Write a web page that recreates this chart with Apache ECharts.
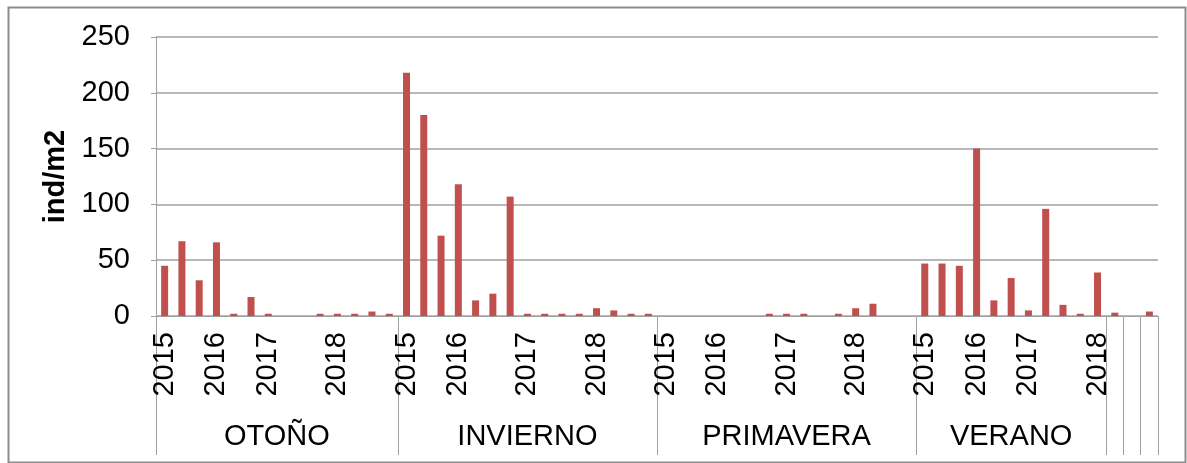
<!DOCTYPE html>
<html>
<head>
<meta charset="utf-8">
<script src="https://cdn.jsdelivr.net/npm/echarts@6/dist/echarts.min.js"></script>
<style>
html,body{margin:0;padding:0;background:#fff;}
#chart{width:1187px;height:463px;}
</style>
</head>
<body>
<div id="chart"></div>
<script>
// ---- Data ----
const yearLabels = [
  '2015','','','2016','','','2017','','','','2018','','','',
  '2015','','','2016','','','','2017','','','','2018','','','',
  '2015','','','2016','','','','2017','','','','2018','','','',
  '2015','','','2016','','','2017','','','','2018',
  '','',''
];
const values = [
  45, 67, 32, 66, 2, 17, 2, 0, 0, 2, 2, 2, 4, 2,
  218, 180, 72, 118, 14, 20, 107, 2, 2, 2, 2, 7, 5, 2, 2,
  0, 0, 0, 0, 0, 0, 2, 2, 2, 0, 2, 7, 11, 0, 0,
  47, 47, 45, 150, 14, 34, 5, 96, 10, 2, 39,
  3, 0, 4
];
const groupNames = ['OTOÑO','INVIERNO','PRIMAVERA','VERANO','','',''];
const groupSizes = [14, 15, 15, 11, 1, 1, 1];
const yTicks = [0, 50, 100, 150, 200, 250];
const yName = 'ind/m2';

// ---- Derived group boundaries / centres ----
const categories = yearLabels.map((_, i) => 'c' + i);
const bounds = [0];
groupSizes.forEach(s => bounds.push(bounds[bounds.length - 1] + s));
const centers = [];
const centerName = {};
groupSizes.forEach((s, i) => {
  if (groupNames[i]) {
    const c = bounds[i] + s / 2;
    centers.push(c);
    centerName[c] = groupNames[i];
  }
});
const total = categories.length;

const FONT = 'Liberation Sans, Arial, sans-serif';
const GRAY = '#a0a0a0';

const chart = echarts.init(document.getElementById('chart'), null, {renderer: 'canvas'});
chart.setOption({
  animation: false,
  backgroundColor: '#ffffff',
  grid: {left: 156, right: 29, top: 37, bottom: 147, containLabel: false},
  graphic: [{
    type: 'rect',
    left: 6, top: 5,
    shape: {width: 1177, height: 455},
    style: {fill: 'none', stroke: '#8c8c8c', lineWidth: 2},
    silent: true
  }],
  xAxis: [{
    type: 'category',
    data: categories,
    position: 'bottom',
    axisLine: {show: true, lineStyle: {color: GRAY, width: 1}},
    axisTick: {show: false},
    axisLabel: {
      interval: 0,
      rotate: 90,
      margin: 16,
      fontFamily: FONT,
      fontSize: 29,
      color: '#000',
      formatter: (v, i) => yearLabels[i]
    },
    splitLine: {show: false}
  }, {
    type: 'value',
    min: 0,
    max: total,
    position: 'bottom',
    axisLine: {show: false},
    axisTick: {
      show: true,
      customValues: bounds,
      length: 139,
      inside: false,
      lineStyle: {color: GRAY, width: 1}
    },
    axisLabel: {
      show: true,
      customValues: centers,
      margin: 106,
      fontFamily: FONT,
      fontSize: 29,
      color: '#000',
      formatter: v => centerName[v] || ''
    },
    splitLine: {show: false}
  }],
  yAxis: {
    type: 'value',
    min: yTicks[0],
    max: yTicks[yTicks.length - 1],
    interval: 50,
    name: yName,
    nameLocation: 'middle',
    nameRotate: 90,
    nameGap: 83,
    nameTextStyle: {fontFamily: FONT, fontSize: 29, fontWeight: 'bold', color: '#000'},
    axisLine: {show: true, lineStyle: {color: GRAY, width: 1}},
    axisTick: {show: true, length: 5, lineStyle: {color: GRAY}},
    axisLabel: {margin: 26, fontFamily: FONT, fontSize: 29, color: '#000'},
    splitLine: {show: true, lineStyle: {color: GRAY, width: 1.5}}
  },
  series: [{
    type: 'bar',
    xAxisIndex: 0,
    data: values,
    barWidth: 7,
    itemStyle: {color: '#C0504D'}
  }]
});
</script>
</body>
</html>
